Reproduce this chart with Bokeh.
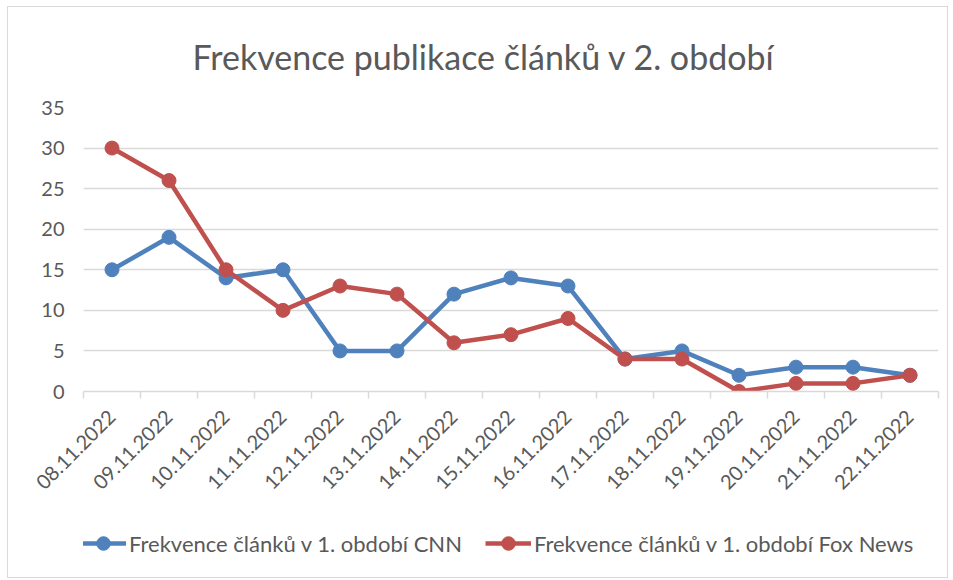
import math
from bokeh.plotting import figure
from bokeh.layouts import column
from bokeh.models import FixedTicker, Legend, LegendItem, Range1d, ColumnDataSource
from bokeh.embed import file_html
from bokeh.resources import INLINE

dates = ["08.11.2022", "09.11.2022", "10.11.2022", "11.11.2022", "12.11.2022",
         "13.11.2022", "14.11.2022", "15.11.2022", "16.11.2022", "17.11.2022",
         "18.11.2022", "19.11.2022", "20.11.2022", "21.11.2022", "22.11.2022"]
cnn = [15, 19, 14, 15, 5, 5, 12, 14, 13, 4, 5, 2, 3, 3, 2]
fox = [30, 26, 15, 10, 13, 12, 6, 7, 9, 4, 4, 0, 1, 1, 2]
y_ticks = [0, 5, 10, 15, 20, 25, 30, 35]
title_text = "Frekvence publikace článků v 2. období"
cnn_label = "Frekvence článků v 1. období CNN"
fox_label = "Frekvence článků v 1. období Fox News"

FONT = "Lato"
TXT = "#595959"
GRID = "#d9d9d9"
BLUE = "#4F81BD"
RED = "#C0504D"

xpos = [i + 0.5 for i in range(len(dates))]
src = ColumnDataSource(dict(x=xpos, cnn=cnn, fox=fox, date=dates))

p = figure(width=939, height=508, output_backend="svg", toolbar_location=None,
           x_range=Range1d(0, len(dates)), y_range=Range1d(0, 35),
           min_border_left=75, min_border_right=9, min_border_top=97, min_border_bottom=124,
           title=title_text)

p.title.text_font = FONT
p.title.text_font_size = "34px"
p.title.text_font_style = "normal"
p.title.text_color = TXT
p.title.align = "left"
p.title.offset = 109
p.title.vertical_align = "top"
p.title.standoff = 57

p.outline_line_color = None
p.xgrid.visible = False
p.ygrid.ticker = FixedTicker(ticks=y_ticks)
p.ygrid.grid_line_color = GRID
p.ygrid.grid_line_width = 1.5

p.yaxis.ticker = FixedTicker(ticks=y_ticks)
p.yaxis.axis_line_color = None
p.yaxis.major_tick_line_color = None
p.yaxis.minor_tick_line_color = None
p.yaxis.major_label_standoff = 13
p.yaxis.major_label_text_font = FONT
p.yaxis.major_label_text_font_size = "20px"
p.yaxis.major_label_text_color = TXT

p.xaxis.ticker = FixedTicker(ticks=xpos, minor_ticks=list(range(len(dates) + 1)))
p.xaxis.major_label_overrides = {xv: d for xv, d in zip(xpos, dates)}
p.xaxis.axis_line_color = GRID
p.xaxis.axis_line_width = 1.5
p.xaxis.major_tick_line_color = None
p.xaxis.minor_tick_line_color = GRID
p.xaxis.minor_tick_line_width = 1.5
p.xaxis.minor_tick_out = 7
p.xaxis.minor_tick_in = 0
p.xaxis.major_label_orientation = math.pi / 4
p.xaxis.major_label_standoff = 15
p.xaxis.major_label_text_font = FONT
p.xaxis.major_label_text_font_size = "20px"
p.xaxis.major_label_text_color = TXT


def draw(fig):
    l1 = fig.line("x", "cnn", source=src, line_color=BLUE, line_width=4.5)
    s1 = fig.scatter("x", "cnn", source=src, size=14, fill_color=BLUE, line_color=BLUE)
    l2 = fig.line("x", "fox", source=src, line_color=RED, line_width=4.5)
    s2 = fig.scatter("x", "fox", source=src, size=14, fill_color=RED, line_color=RED)
    return l1, s1, l2, s2


draw(p)

# legend strip: same series, shown only through its legend
lf = figure(width=939, height=62, output_backend="svg", toolbar_location=None,
            x_range=Range1d(-3, -2), y_range=Range1d(-3, -2),
            x_axis_location=None, y_axis_location=None,
            min_border=0, min_border_left=0, min_border_right=0,
            min_border_top=0, min_border_bottom=0)
lf.grid.visible = False
lf.outline_line_color = None
l1, s1, l2, s2 = draw(lf)

legend = Legend(items=[LegendItem(label=cnn_label, renderers=[l1, s1]),
                       LegendItem(label=fox_label, renderers=[l2, s2])],
                orientation="horizontal", location=(-3, 17))
legend.border_line_color = None
legend.background_fill_alpha = 0
legend.label_text_font = FONT
legend.label_text_font_size = "22px"
legend.label_text_color = TXT
legend.glyph_width = 46
legend.glyph_height = 34
legend.label_standoff = 3
legend.spacing = 23
legend.padding = 10
legend.margin = 0
lf.add_layout(legend, "center")

layout = column(p, lf, spacing=0,
                styles={"border": "1px solid #d9d9d9", "margin-left": "7px", "margin-top": "6px"})

open("out.html", "w").write(file_html(layout, INLINE))
